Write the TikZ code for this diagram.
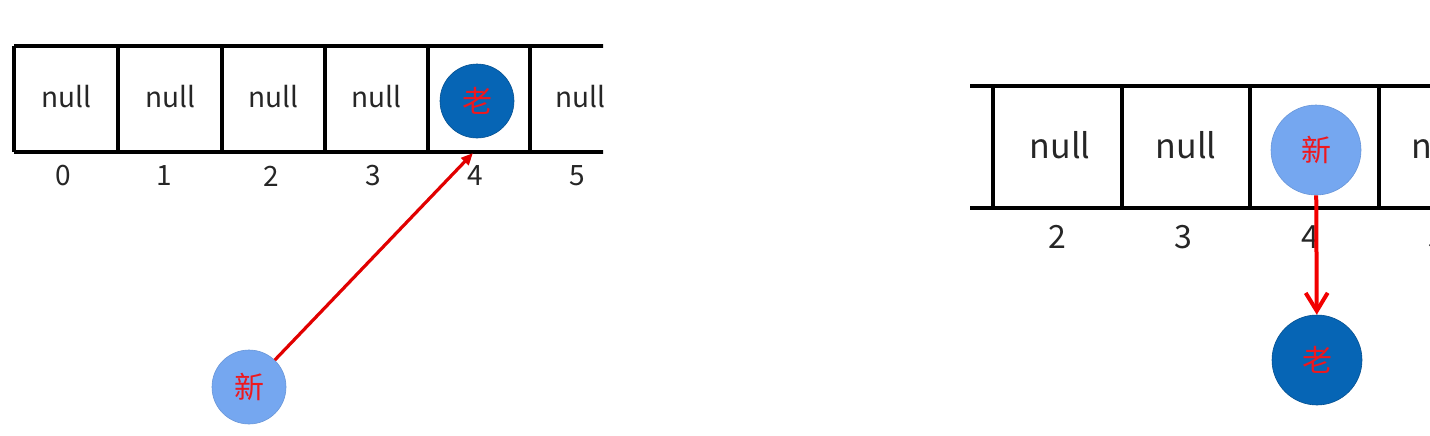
\documentclass[tikz,border=0pt]{standalone}
\usepackage{fontspec}
\setmainfont{Noto Sans CJK SC}
\usetikzlibrary{arrows.meta}
\definecolor{oldblue}{RGB}{6,101,181}
\definecolor{newblue}{RGB}{117,167,240}
\definecolor{charred}{RGB}{238,24,30}
\definecolor{arrowred}{RGB}{225,0,0}
\tikzset{
  slot/.style={line width=1.6pt},
  nulltxt/.style={inner sep=0pt,text=black!85,font=\fontsize{14}{14}\selectfont},
  idxtxt/.style={inner sep=0pt,text=black!85,font=\fontsize{14}{14}\selectfont},
  oldball/.style={circle,fill=oldblue,draw=oldblue!80!black,line width=0.3pt,
    minimum size=#1,inner sep=0pt,text=charred,font=\fontsize{15}{15}\selectfont},
  newball/.style={circle,fill=newblue,draw=newblue!90!black,line width=0.3pt,
    minimum size=#1,inner sep=0pt,text=charred,font=\fontsize{15}{15}\selectfont},
  redarrow/.style={draw=arrowred,line width=1.6pt}
}
\begin{document}
\begin{tikzpicture}[x=0.5pt,y=-0.5pt]%
\useasboundingbox (0,0) rectangle (1430,435);
% left: table 0..5, new entry comes in at slot 4
\begin{scope}
\clip (0,0) rectangle (603,200);
\draw[slot] (14,46) -- (640,46);
\draw[slot] (14,152) -- (640,152);
\foreach \x in {14,118,222,325,428,530}
  \draw[slot] (\x,46) -- (\x,152);
\foreach \x/\n in {66/a,170/b,273/c,376/d,580/f}
  \node[nulltxt] (nullL\n) at (\x,97) {null};
\end{scope}
\foreach \x/\i in {63/0,164/1,271/2,373/3,475/4,577/5}
  \node[idxtxt] (idxL\i) at (\x,176) {\i};
\node[oldball=37pt] (oldL) at (477,101) {老};
\node[newball=37pt] (newL) at (249,387) {新};
\coordinate (tipL) at (473,153);
\draw[redarrow,-{Triangle[length=6pt,width=5pt]}] (newL) -- (tipL);
% right: slot 4 now holds the new entry, old one hangs below it
\begin{scope}
\clip (970,0) rectangle (1430,435);
\draw[slot] (970,86) -- (1440,86);
\draw[slot] (970,208) -- (1440,208);
\foreach \x in {993,1122,1250,1379}
  \draw[slot] (\x,86) -- (\x,208);
\foreach \x/\n in {1060/c,1186/d,1442/f}
  \node[nulltxt,font=\fontsize{17}{17}\selectfont] (nullR\n) at (\x,145) {null};
\foreach \x/\i in {1057/2,1183/3,1310/4,1437/5}
  \node[idxtxt,font=\fontsize{16}{16}\selectfont] (idxR\i) at (\x,237) {\i};
\end{scope}
\node[newball=45pt] (newR) at (1316,150) {新};
\node[oldball=45pt] (oldR) at (1317,360) {老};
\draw[redarrow,draw=red!95!black,line width=2pt,-{Straight Barb[length=9pt,width=11pt]}] (newR) -- (oldR);
\end{tikzpicture}
\end{document}
